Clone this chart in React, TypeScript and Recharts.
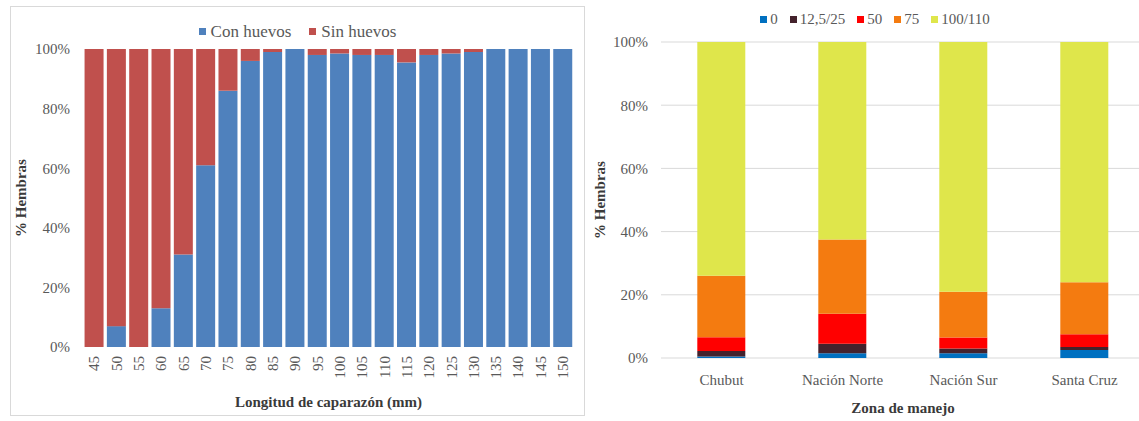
import React from 'react';
import { BarChart, Bar, XAxis, YAxis, CartesianGrid } from 'recharts';

const SERIF = 'Liberation Serif, Tinos, DejaVu Serif, serif';
const TICK_COLOR = '#595959';
const TITLE_COLOR = '#3a3a3a';

// Hembras con / sin huevos por clase de longitud de caparazón (mm)
const lengthClasses = [
  '45', '50', '55', '60', '65', '70', '75', '80', '85', '90', '95',
  '100', '105', '110', '115', '120', '125', '130', '135', '140', '145', '150',
];
const conHuevos = [0, 7, 0, 13, 31, 61, 86, 96, 99, 100, 98, 98.5, 98, 98, 95.5, 98, 98.5, 99, 100, 100, 100, 100];
const sinHuevos = [100, 93, 100, 87, 69, 39, 14, 4, 1, 0, 2, 1.5, 2, 2, 4.5, 2, 1.5, 1, 0, 0, 0, 0];

// Estadio de carga de huevos por zona de manejo
const zonas = ['Chubut', 'Nación Norte', 'Nación Sur', 'Santa Cruz'];
const stage0 = [0.5, 1.5, 1.5, 2.5];
const stage12 = [1.7, 3, 1.5, 1];
const stage50 = [4.4, 9.5, 3.5, 4];
const stage75 = [19.4, 23.5, 14.5, 16.5];
const stage100 = [74, 62.5, 79, 76];

const percentTicks = [0, 0.2, 0.4, 0.6, 0.8, 1];
const pct = (v: number) => `${Math.round(v * 100)}%`;

const eggSeries = [
  { key: 'con', name: 'Con huevos', color: '#4F81BD', values: conHuevos },
  { key: 'sin', name: 'Sin huevos', color: '#C0504D', values: sinHuevos },
];

const stageSeries = [
  { key: 's0', name: '0', color: '#0070C0', values: stage0 },
  { key: 's12', name: '12,5/25', color: '#44222c', values: stage12 },
  { key: 's50', name: '50', color: '#FF0000', values: stage50 },
  { key: 's75', name: '75', color: '#F47B10', values: stage75 },
  { key: 's100', name: '100/110', color: '#DFE64B', values: stage100 },
];

const lengthRows = lengthClasses.map((c, i) => {
  const row: Record<string, string | number> = { clase: c };
  eggSeries.forEach((s) => (row[s.key] = s.values[i]));
  return row;
});

const zoneRows = zonas.map((z, i) => {
  const row: Record<string, string | number> = { zona: z };
  stageSeries.forEach((s) => (row[s.key] = s.values[i]));
  return row;
});

type LegendItem = { name: string; color: string };

const SwatchLegend = ({
  items, fontSize, top, left, width, gap, swatchGap,
}: {
  items: LegendItem[]; fontSize: number; top: number; left: number; width: number; gap: number; swatchGap: number;
}) => (
  <div
    style={{
      position: 'absolute', top, left, width, display: 'flex', justifyContent: 'center',
      gap, fontFamily: SERIF, fontSize, lineHeight: 1, color: TICK_COLOR, whiteSpace: 'nowrap',
    }}
  >
    {items.map((it) => (
      <span key={it.name} style={{ display: 'flex', alignItems: 'center' }}>
        <span style={{ width: 7, height: 7, background: it.color, marginRight: swatchGap }} />
        {it.name}
      </span>
    ))}
  </div>
);

// etiquetas verticales del eje de longitudes
const RotatedTick = (props: any) => {
  const { x, y, payload } = props;
  return (
    <text
      x={x}
      y={y}
      dy="0.35em"
      transform={`rotate(-90, ${x}, ${y})`}
      textAnchor="end"
      fontFamily={SERIF}
      fontSize={15}
      fill={TICK_COLOR}
    >
      {payload.value}
    </text>
  );
};

const titleStyle = { fontFamily: SERIF, fontSize: 15, fontWeight: 700, fill: TITLE_COLOR };
const tickStyle = { fontFamily: SERIF, fontSize: 15, fill: TICK_COLOR };

const LengthChart = () => (
  <div
    style={{
      position: 'absolute', left: 10, top: 6, width: 575, height: 410,
      boxSizing: 'border-box', border: '1px solid #d9d9d9', background: '#fff',
    }}
  >
    <BarChart
      width={573}
      height={408}
      data={lengthRows}
      stackOffset="expand"
      barCategoryGap="7%"
      margin={{ top: 42, right: 10, left: 0, bottom: 0 }}
    >
      <XAxis
        dataKey="clase"
        height={68}
        interval={0}
        tickLine={false}
        axisLine={false}
        tickMargin={3}
        tick={<RotatedTick />}
        label={{ value: 'Longitud de caparazón (mm)', position: 'insideBottom', offset: 8, style: titleStyle }}
      />
      <YAxis
        width={72}
        domain={[0, 1]}
        ticks={percentTicks}
        tickFormatter={pct}
        tickLine={false}
        axisLine={false}
        tickMargin={7}
        tick={tickStyle}
        label={{ value: '% Hembras', angle: -90, position: 'insideLeft', offset: 10, style: { ...titleStyle, textAnchor: 'middle' } }}
      />
      {eggSeries.map((s) => (
        <Bar key={s.key} dataKey={s.key} name={s.name} stackId="a" fill={s.color} isAnimationActive={false} />
      ))}
    </BarChart>
    <SwatchLegend items={eggSeries} fontSize={17} top={16} left={0} width={573} gap={18} swatchGap={5} />
  </div>
);

const ZoneChart = () => (
  <div style={{ position: 'absolute', left: 590, top: 0, width: 570, height: 421 }}>
    <BarChart
      width={570}
      height={421}
      data={zoneRows}
      stackOffset="expand"
      barCategoryGap="30%"
      margin={{ top: 42, right: 15, left: 0, bottom: 0 }}
    >
      <CartesianGrid vertical={false} stroke="#d9d9d9" />
      <XAxis
        dataKey="zona"
        height={63}
        interval={0}
        tickLine={false}
        axisLine={false}
        tickMargin={10}
        tick={tickStyle}
        label={{ value: 'Zona de manejo', position: 'insideBottom', offset: 8, style: titleStyle }}
      />
      <YAxis
        width={71}
        domain={[0, 1]}
        ticks={percentTicks}
        tickFormatter={pct}
        tickLine={false}
        axisLine={false}
        tickMargin={7}
        tick={tickStyle}
        label={{ value: '% Hembras', angle: -90, position: 'insideLeft', offset: 10, style: { ...titleStyle, textAnchor: 'middle' } }}
      />
      {stageSeries.map((s) => (
        <Bar key={s.key} dataKey={s.key} name={s.name} stackId="a" fill={s.color} isAnimationActive={false} />
      ))}
    </BarChart>
    <SwatchLegend items={stageSeries} fontSize={15} top={12} left={0} width={570} gap={12} swatchGap={3} />
  </div>
);

export default function App() {
  return (
    <div
      style={{
        position: 'fixed', left: 0, top: 0, width: 1139, height: 421,
        overflow: 'hidden', background: '#fff',
      }}
    >
      <LengthChart />
      <ZoneChart />
    </div>
  );
}
